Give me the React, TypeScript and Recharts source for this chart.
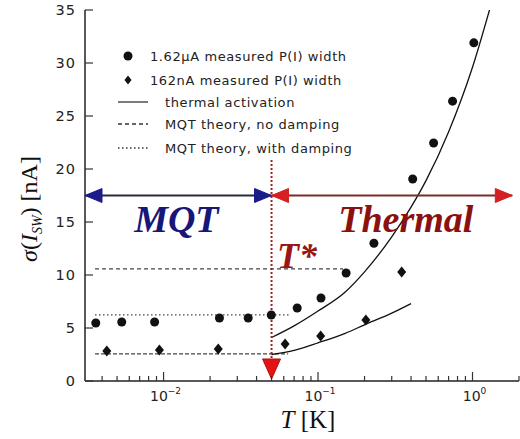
import React from 'react';
import { ComposedChart, Line, Scatter, XAxis, YAxis, ReferenceLine, ReferenceDot, Legend } from 'recharts';

// 1.62 uA measured P(I) width
const bigT = [0.00364, 0.00536, 0.00875, 0.023, 0.0353, 0.0498, 0.0733, 0.1045, 0.152, 0.23, 0.41, 0.56, 0.743, 1.02];
const bigWidth = [5.47, 5.57, 5.57, 5.94, 5.94, 6.23, 6.89, 7.83, 10.19, 13.0, 19.06, 22.45, 26.4, 31.9];

// 162 nA measured P(I) width
const smallT = [0.00429, 0.0094, 0.0226, 0.0612, 0.104, 0.204, 0.348];
const smallWidth = [2.83, 2.92, 3.02, 3.49, 4.25, 5.75, 10.28];

// thermal activation curves
const thermBigT = [0.05, 0.07, 0.1, 0.15, 0.2, 0.3, 0.4, 0.5, 0.7, 1.0, 1.3];
const thermBigW = [4.1, 5.2, 6.6, 8.4, 10.3, 13.6, 16.4, 18.9, 23.5, 29.6, 35.2];
const thermSmallT = [0.05, 0.07, 0.1, 0.15, 0.2, 0.3, 0.4];
const thermSmallW = [2.5, 2.9, 3.6, 4.5, 5.3, 6.4, 7.3];

// MQT theory levels: [level, tStart, tEnd]
const mqtNoDamping = [10.57, 0.0036, 0.145];
const mqtDamping = [6.23, 0.0036, 0.066];
const mqtSmall = [2.55, 0.0036, 0.064];

const tStar = 0.05;
const arrowY = 17.5;
const xMin = 0.0031;
const xMax = 2.0;
const arrowEnd = 1.81;

const majorTicks = [0.01, 0.1, 1];
const minorTicks = [0.004, 0.005, 0.006, 0.007, 0.008, 0.009, 0.02, 0.03, 0.04, 0.05, 0.06, 0.07, 0.08, 0.09, 0.2, 0.3, 0.4, 0.5, 0.6, 0.7, 0.8, 0.9, 2];
const yTicks = [0, 5, 10, 15, 20, 25, 30, 35];

const zip = (xs: number[], ys: number[]) => xs.map((t, i) => ({ t, v: ys[i] }));

const bigData = zip(bigT, bigWidth);
const smallData = zip(smallT, smallWidth);
const thermBig = zip(thermBigT, thermBigW);
const thermSmall = zip(thermSmallT, thermSmallW);

const allTicks = [...minorTicks, ...majorTicks].sort((a, b) => a - b);
const isMajor = (v: number) => majorTicks.includes(v);

const tickFont = { fontFamily: 'DejaVu Sans', fill: '#222' };

const BottomTick = (props: any) => {
  const { x, y, payload } = props;
  const major = isMajor(payload.value);
  const exp = Math.round(Math.log10(payload.value));
  return (
    <g>
      <line x1={x} x2={x} y1={y} y2={y - (major ? 9 : 5)} stroke="#333" strokeWidth={1.2} />
      {major && (
        <text x={x + 2} y={y + 20} textAnchor="middle" fontSize={14} {...tickFont}>
          10<tspan dy={-7} fontSize={9}>{exp === 0 ? '0' : '\u2212' + Math.abs(exp)}</tspan>
        </text>
      )}
    </g>
  );
};

const TopTick = (props: any) => {
  const { x, y, payload } = props;
  const major = isMajor(payload.value);
  return <line x1={x} x2={x} y1={y} y2={y + (major ? 9 : 5)} stroke="#333" strokeWidth={1.2} />;
};

const LeftTick = (props: any) => {
  const { x, y, payload } = props;
  return (
    <g>
      <line x1={x} x2={x + 8} y1={y} y2={y} stroke="#333" strokeWidth={1.2} />
      <text x={x - 9} y={y} dy="0.36em" textAnchor="end" fontSize={14.5} letterSpacing={1} {...tickFont}>
        {payload.value}
      </text>
    </g>
  );
};

const RightTick = (props: any) => {
  const { x, y } = props;
  return <line x1={x} x2={x - 9} y1={y} y2={y} stroke="#333" strokeWidth={1.2} />;
};

const arrowHead = (color: string, dir: 1 | -1) => (p: any) => {
  const { cx, cy } = p;
  const len = 17;
  const half = 7;
  return <polygon points={`${cx},${cy} ${cx - dir * len},${cy - half} ${cx - dir * len},${cy + half}`} fill={color} stroke={color} />;
};

const downTriangle = (p: any) => {
  const { cx, cy } = p;
  return <polygon points={`${cx},${cy} ${cx - 9},${cy - 20} ${cx + 9},${cy - 20}`} fill="#e31414" stroke="#b01010" />;
};

const bigText = (label: string, color: string, size: number, anchor: string) => (p: any) => (
  <text x={p.cx} y={p.cy} textAnchor={anchor} fontFamily="Liberation Serif" fontStyle="italic" fontWeight="bold" fontSize={size} fill={color}>
    {label}
  </text>
);

const dot = (p: any) => <circle cx={p.cx} cy={p.cy} r={4.5} fill="#111" />;
const diamond = (p: any) => (
  <polygon points={`${p.cx},${p.cy - 5.5} ${p.cx + 4.5},${p.cy} ${p.cx},${p.cy + 5.5} ${p.cx - 4.5},${p.cy}`} fill="#111" />
);

const legendRows = [
  { kind: 'dot', text: '1.62\u03bcA measured P(I) width' },
  { kind: 'diamond', text: '162nA measured P(I) width' },
  { kind: 'solid', text: 'thermal activation' },
  { kind: 'dashed', text: 'MQT theory, no damping' },
  { kind: 'dotted', text: 'MQT theory, with damping' },
];
const legendRowY = [11, 35, 57, 79, 103];

const LegendBox = () => (
  <svg width={260} height={115}>
    {legendRows.map((r, i) => {
      const y = legendRowY[i];
      const marker = r.kind === 'dot' || r.kind === 'diamond';
      return (
        <g key={r.text}>
          {r.kind === 'dot' && <circle cx={16} cy={y} r={4.5} fill="#111" />}
          {r.kind === 'diamond' && <polygon points={`16,${y - 4.5} 19.5,${y} 16,${y + 4.5} 12.5,${y}`} fill="#111" />}
          {!marker && (
            <line x1={6} x2={36} y1={y} y2={y} stroke="#333" strokeWidth={1.3}
              strokeDasharray={r.kind === 'dashed' ? '4 3' : r.kind === 'dotted' ? '1.5 2.5' : undefined} />
          )}
          <text x={marker ? 38 : 53} y={y} dy="0.35em" fontSize={13} letterSpacing={0.6} fontFamily="DejaVu Sans" fill="#222">
            {r.text}
          </text>
        </g>
      );
    })}
  </svg>
);

const YLabel = () => (
  <text transform="translate(37, 209) rotate(-90)" textAnchor="middle" fontFamily="Liberation Serif" fontSize={24} fill="#111">
    <tspan fontStyle="italic">{'\u03c3'}</tspan>(<tspan fontStyle="italic">I</tspan>
    <tspan fontStyle="italic" fontSize={14} dy={5}>SW</tspan>
    <tspan dy={-5}>) [nA]</tspan>
  </text>
);

const XLabel = () => (
  <text x={308} y={428} textAnchor="middle" fontFamily="Liberation Serif" fontSize={25} fill="#111">
    <tspan fontStyle="italic">T</tspan> [K]
  </text>
);

const mqtLine = (lv: number[], dash: string, key: string) => (
  <ReferenceLine key={key} segment={[{ x: lv[1], y: lv[0] }, { x: lv[2], y: lv[0] }]} stroke="#444" strokeWidth={1.2} strokeDasharray={dash} />
);

export default function App() {
  return (
    <div style={{ position: 'absolute', left: 0, top: 0, background: '#fff' }}>
      <ComposedChart width={520} height={439} margin={{ top: 10, right: 1, bottom: 18, left: 40 }}>
        <XAxis dataKey="t" type="number" scale="log" domain={[xMin, xMax]} allowDataOverflow ticks={allTicks} interval={0}
          tick={<BottomTick />} tickSize={0} tickMargin={0} height={40} stroke="#222" strokeWidth={1.5}
          label={{ content: () => <XLabel /> }} />
        <XAxis xAxisId="top" orientation="top" type="number" scale="log" domain={[xMin, xMax]} allowDataOverflow ticks={allTicks} interval={0}
          tick={<TopTick />} tickSize={0} tickMargin={0} height={0} stroke="#222" strokeWidth={1.5} />
        <YAxis dataKey="v" type="number" domain={[0, 35]} ticks={yTicks} interval={0} allowDataOverflow
          tick={<LeftTick />} tickSize={0} tickMargin={0} width={45} stroke="#222" strokeWidth={1.5}
          label={{ content: () => <YLabel /> }} />
        <YAxis yAxisId="right" orientation="right" type="number" domain={[0, 35]} ticks={yTicks} interval={0}
          tick={<RightTick />} tickSize={0} tickMargin={0} width={0} stroke="#222" strokeWidth={1.5} />

        {mqtLine(mqtNoDamping, '4 3', 'nd')}
        {mqtLine(mqtDamping, '1.5 2.5', 'd')}
        {mqtLine(mqtSmall, '4 2', 's')}

        <Line data={thermBig} dataKey="v" type="monotone" stroke="#111" strokeWidth={1.3} dot={false} isAnimationActive={false} />
        <Line data={thermSmall} dataKey="v" type="monotone" stroke="#111" strokeWidth={1.3} dot={false} isAnimationActive={false} />

        <Scatter data={bigData} dataKey="v" shape={dot} isAnimationActive={false} />
        <Scatter data={smallData} dataKey="v" shape={diamond} isAnimationActive={false} />

        {/* regime arrows */}
        <ReferenceLine segment={[{ x: xMin, y: arrowY }, { x: tStar, y: arrowY }]} stroke="#2a2a3a" strokeWidth={2} ifOverflow="visible" />
        <ReferenceLine segment={[{ x: tStar, y: arrowY }, { x: arrowEnd, y: arrowY }]} stroke="#7a2a2a" strokeWidth={2} />
        <ReferenceLine segment={[{ x: tStar, y: 20.85 }, { x: tStar, y: 2.0 }]} stroke="#a82020" strokeWidth={2} strokeDasharray="2 2" />
        <ReferenceDot x={xMin} y={arrowY} shape={arrowHead('#1c1c8a', -1)} ifOverflow="visible" />
        <ReferenceDot x={tStar} y={arrowY} shape={arrowHead('#1c1c8a', 1)} />
        <ReferenceDot x={tStar} y={arrowY} shape={arrowHead('#d42020', -1)} />
        <ReferenceDot x={arrowEnd} y={arrowY} shape={arrowHead('#d42020', 1)} />
        <ReferenceDot x={tStar} y={0.19} shape={downTriangle} />

        <ReferenceDot x={0.0121} y={14.06} shape={bigText('MQT', '#17177a', 38, 'middle')} />
        <ReferenceDot x={0.37} y={14.06} shape={bigText('Thermal', '#8b1010', 38, 'middle')} />
        <ReferenceDot x={0.0543} y={10.66} shape={bigText('T*', '#9a1515', 36, 'start')} />

        <Legend layout="vertical" align="center" verticalAlign="middle" content={() => <LegendBox />}
          wrapperStyle={{ left: 112, top: 45, width: 260 }} />
      </ComposedChart>
    </div>
  );
}
